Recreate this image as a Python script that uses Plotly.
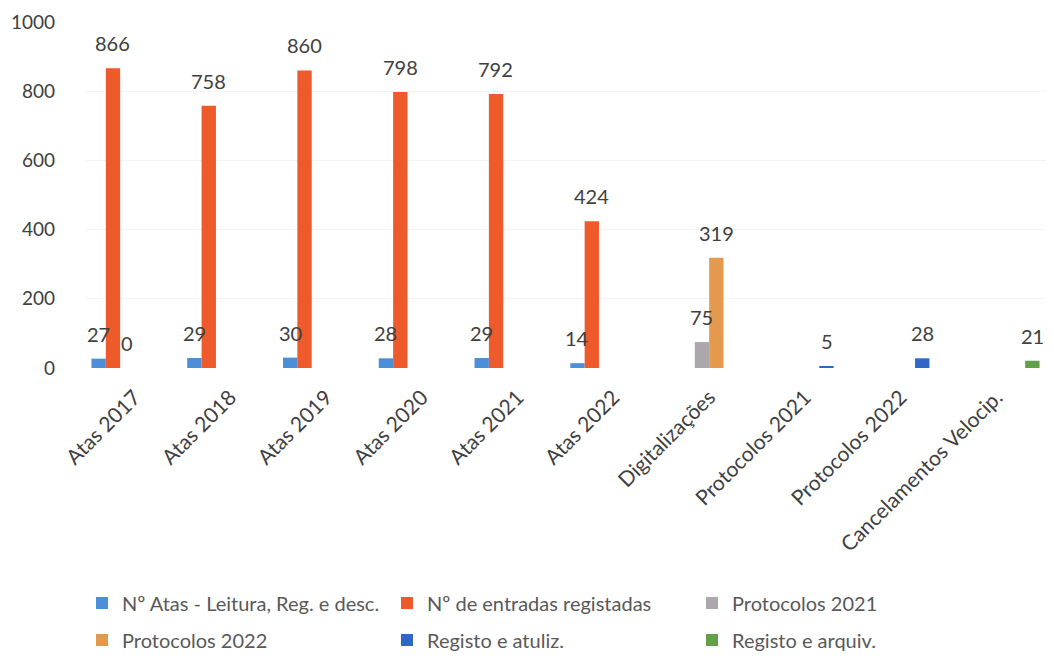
import plotly.graph_objects as go

categories = ["Atas 2017", "Atas 2018", "Atas 2019", "Atas 2020", "Atas 2021",
              "Atas 2022", "Digitalizações", "Protocolos 2021", "Protocolos 2022",
              "Cancelamentos Velocip."]

atas_leitura = [27, 29, 30, 28, 29, 14, None, None, None, None]
entradas = [866, 758, 860, 798, 792, 424, None, None, None, None]
protocolos_2021 = [0, None, None, None, None, None, 75, None, None, None]
protocolos_2022 = [None, None, None, None, None, None, 319, None, None, None]
registo_atuliz = [None, None, None, None, None, None, None, 5, 28, None]
registo_arquiv = [None, None, None, None, None, None, None, None, None, 21]

series_names = ["Nº Atas - Leitura, Reg. e desc.", "Nº de entradas registadas",
                "Protocolos 2021", "Protocolos 2022", "Registo e atuliz.",
                "Registo e arquiv."]
series_values = [atas_leitura, entradas, protocolos_2021, protocolos_2022,
                 registo_atuliz, registo_arquiv]
colors = ["#4A8FD8", "#EE5A2A", "#ABA7AD", "#E39A4C", "#2E67C6", "#62A04A"]
legend_ids = ["legend", "legend", "legend", "legend2", "legend2", "legend2"]

FONT = "Lato, 'Open Sans', sans-serif"

# page body has an 8px margin; the figure is sized to fit inside the window
W, H = 1038, 643
ML, MR, MT, MB = 77, 0, 14, 283
BARGAP = 0.1
n_series = len(series_names)
slot_px = (W - ML - MR) / len(categories) * (1 - BARGAP) / n_series

fig = go.Figure()
annotations = []
for i, (name, vals, col, lg) in enumerate(zip(series_names, series_values, colors, legend_ids)):
    fig.add_trace(go.Bar(
        x=categories, y=vals, name=name,
        marker=dict(color=col, line=dict(width=0)),
        legend=lg,
    ))
    for cat, v in zip(categories, vals):
        if v is None:
            continue
        annotations.append(dict(
            x=cat, y=v, xref="x", yref="y", text=str(v), showarrow=False,
            xanchor="center", yanchor="bottom",
            xshift=(i - (n_series - 1) / 2) * slot_px, yshift=11,
            font=dict(family=FONT, size=20, color="#404040"),
        ))

legend_common = dict(
    orientation="h", xref="container", yref="container",
    x=74 / W, xanchor="left", yanchor="middle",
    font=dict(family=FONT, size=20, color="#595959"),
    entrywidth=260, entrywidthmode="pixels",
    bgcolor="rgba(0,0,0,0)", traceorder="normal",
)

fig.update_layout(
    width=W, height=H,
    paper_bgcolor="white", plot_bgcolor="white",
    margin=dict(l=ML, r=MR, t=MT, b=MB),
    barmode="group", bargap=BARGAP, bargroupgap=0,
    font=dict(family=FONT, color="#404040"),
    legend=dict(**legend_common, y=1 - 595 / H),
    legend2=dict(**legend_common, y=1 - 632 / H),
    annotations=annotations,
    xaxis=dict(
        tickangle=-45, showgrid=False, zeroline=False, showline=False,
        tickfont=dict(family=FONT, size=21, color="#404040"),
        ticks="", ticklabelstandoff=12,
    ),
    yaxis=dict(
        range=[0, 1000], dtick=200, showgrid=True, gridcolor="#F3F3F3",
        zeroline=False, showline=False, ticks="",
        tickfont=dict(family=FONT, size=19, color="#404040"),
        ticklabelstandoff=29,
    ),
)

fig.write_html("out.html")
